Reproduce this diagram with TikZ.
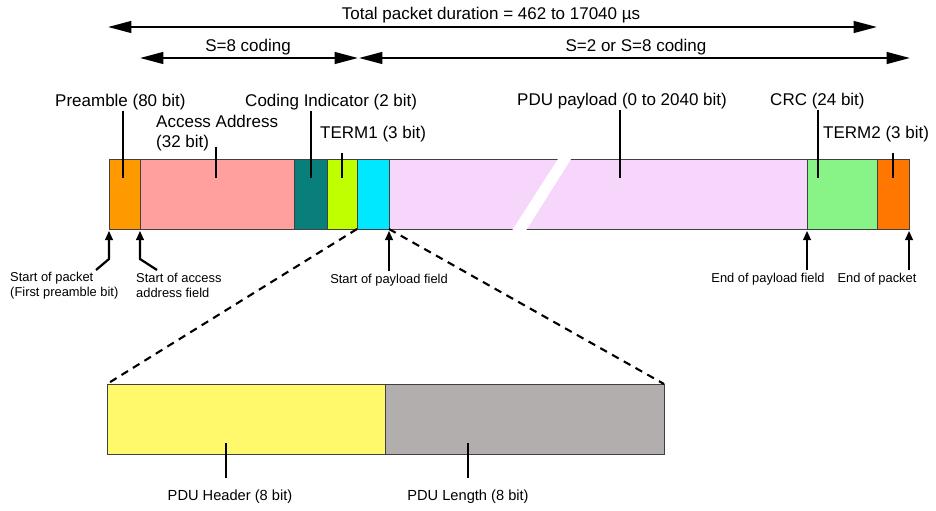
\documentclass[tikz,border=0pt]{standalone}
\usepackage{fontspec}
\setmainfont{Liberation Sans}
\usetikzlibrary{arrows.meta,calc}

\definecolor{cPre}{HTML}{FF9900}
\definecolor{cAA}{HTML}{FFA09E}
\definecolor{cCI}{HTML}{087F7A}
\definecolor{cTone}{HTML}{BFFF00}
\definecolor{cCy}{HTML}{00E8FF}
\definecolor{cPay}{HTML}{F7D6FB}
\definecolor{cCRC}{HTML}{88F488}
\definecolor{cTtwo}{HTML}{FF7700}
\definecolor{cHdr}{HTML}{FFF96B}
\definecolor{cLen}{HTML}{B2AEAE}

\begin{document}
\begin{tikzpicture}[x=0.03cm, y=-0.03cm, font=\fontsize{14.5}{17}\selectfont,
    seg/.style={draw=black!75, line width=0.7pt, anchor=north west, inner sep=0pt, outer sep=0pt, minimum height=2.1cm},
    lbl/.style={inner sep=0pt, anchor=base west},
    note/.style={inner sep=0pt, font=\fontsize{11}{13}\selectfont},
    lead/.style={line width=2pt},
    span/.style={line width=1.9pt, {Triangle[length=20pt,width=10pt]}-{Triangle[length=20pt,width=10pt]}},
    ptr/.style={line width=1.9pt, -{Triangle[length=8pt,width=6.5pt]}, shorten >=1.5pt},
    zoomline/.style={line width=1.8pt, dash pattern=on 6.5pt off 5pt}]
  \useasboundingbox (0,0) rectangle (936,511);

  % durations
  \node[anchor=base] (tot) at (491,20) {Total packet duration = 462 to 17040 µs};
  \coordinate (totL) at (108,27);
  \coordinate (totR) at (877,27);
  \draw[span] (totL) -- (totR);
  \node[anchor=base] (seight) at (248,52) {S=8 coding};
  \node[anchor=base] (stwo) at (636,52) {S=2 or S=8 coding};
  \coordinate (sL) at (140,58);
  \coordinate (sM) at (358,58);
  \coordinate (sN) at (359,58);
  \coordinate (sR) at (910,58);
  \draw[span] (sL) -- (sM);
  \draw[span] (sN) -- (sR);

  % packet fields
  \node[seg, fill=cPre, minimum width=0.93cm] (pre) at (109,159) {};
  \node[seg, fill=cAA, minimum width=4.62cm] (aa) at (pre.north east) {};
  \node[seg, fill=cCI, minimum width=0.99cm] (ci) at (aa.north east) {};
  \node[seg, fill=cTone, minimum width=0.9cm] (tone) at (ci.north east) {};
  \node[seg, fill=cCy, minimum width=0.96cm] (cy) at (tone.north east) {};
  \node[seg, fill=cPay, minimum width=12.54cm] (pay) at (cy.north east) {};
  \node[seg, fill=cCRC, minimum width=2.1cm] (crc) at (pay.north east) {};
  \node[seg, fill=cTtwo, minimum width=0.96cm] (ttwo) at (crc.north east) {};
  \fill[white] (559.3,157) -- (572.3,157) -- (525.7,231) -- (511.7,231) -- cycle;

  % field labels
  \node[lbl] (lPre) at (55,107) {Preamble (80 bit)};
  \node[inner sep=0pt, anchor=north west, align=left] (lAA) at (156,115) {Access Address\\(32 bit)};
  \node[lbl] (lCI) at (245,107) {Coding Indicator (2 bit)};
  \node[lbl] (lTone) at (320,139) {TERM1 (3 bit)};
  \node[lbl] (lPay) at (517,106) {PDU payload (0 to 2040 bit)};
  \node[lbl] (lCRC) at (770,106) {CRC (24 bit)};
  \node[lbl] (lTtwo) at (823,139) {TERM2 (3 bit)};
  \coordinate (pPre) at (123,178);
  \coordinate (pAA) at (216,178);
  \coordinate (pCI) at (311,178);
  \coordinate (pTone) at (342,178);
  \coordinate (pPay) at (620,178);
  \coordinate (pCRC) at (818,178);
  \coordinate (pTtwo) at (893,178);
  \draw[lead] (pPre |- lPre.south) -- (pPre);
  \draw[lead, shorten <=-4pt] (pAA |- lAA.south) -- (pAA);
  \draw[lead] (pCI |- lCI.south) -- (pCI);
  \draw[lead, shorten <=9pt] (pTone |- lTone.south) -- (pTone);
  \draw[lead] (pPay |- lPay.south) -- (pPay);
  \draw[lead] (pCRC |- lCRC.south) -- (pCRC);
  \draw[lead, shorten <=9pt] (pTtwo |- lTtwo.south) -- (pTtwo);

  % markers below the packet
  \node[note, anchor=north west, align=left] (lSpk) at (10,272) {Start of packet\\(First preamble bit)};
  \node[note, anchor=north west, align=left] (lSaa) at (136,273) {Start of access\\address field};
  \node[note, anchor=base] (lSpl) at (389,283) {Start of payload field};
  \node[note, anchor=base] (lEpl) at (768,282) {End of payload field};
  \node[note, anchor=base] (lEpk) at (877,282) {End of packet};
  \coordinate (aSpk) at (96,270);
  \coordinate (aSaa) at (157,270);
  \draw[ptr] (aSpk) -- ($(pre.south west)+(0,30)$) -- (pre.south west);
  \draw[ptr] (aSaa) -- ($(aa.south west)+(0,30)$) -- (aa.south west);
  \draw[ptr, shorten <=2pt] (pay.south west |- lSpl.north) -- (pay.south west);
  \draw[ptr, shorten <=2pt] (crc.south west |- lEpl.north) -- (crc.south west);
  \draw[ptr, shorten <=2pt] (ttwo.south east |- lEpk.north) -- (ttwo.south east);

  % PDU header
  \node[seg, fill=cHdr, minimum width=8.34cm] (hdr) at (107,384) {};
  \node[seg, fill=cLen, minimum width=8.37cm] (len) at (hdr.north east) {};
  \draw[zoomline] (tone.south east) -- (hdr.north west);
  \draw[zoomline] (cy.south east) -- (len.north east);
  \node[anchor=base, font=\fontsize{12.5}{15}\selectfont] (lHdr) at (230,500) {PDU Header (8 bit)};
  \node[anchor=base, font=\fontsize{12.5}{15}\selectfont] (lLen) at (468,500) {PDU Length (8 bit)};
  \coordinate (pHdr) at (226,443);
  \coordinate (pLen) at (468,443);
  \draw[lead, shorten >=6pt] (pHdr) -- (pHdr |- lHdr.north);
  \draw[lead, shorten >=6pt] (pLen) -- (pLen |- lLen.north);
\end{tikzpicture}
\end{document}
